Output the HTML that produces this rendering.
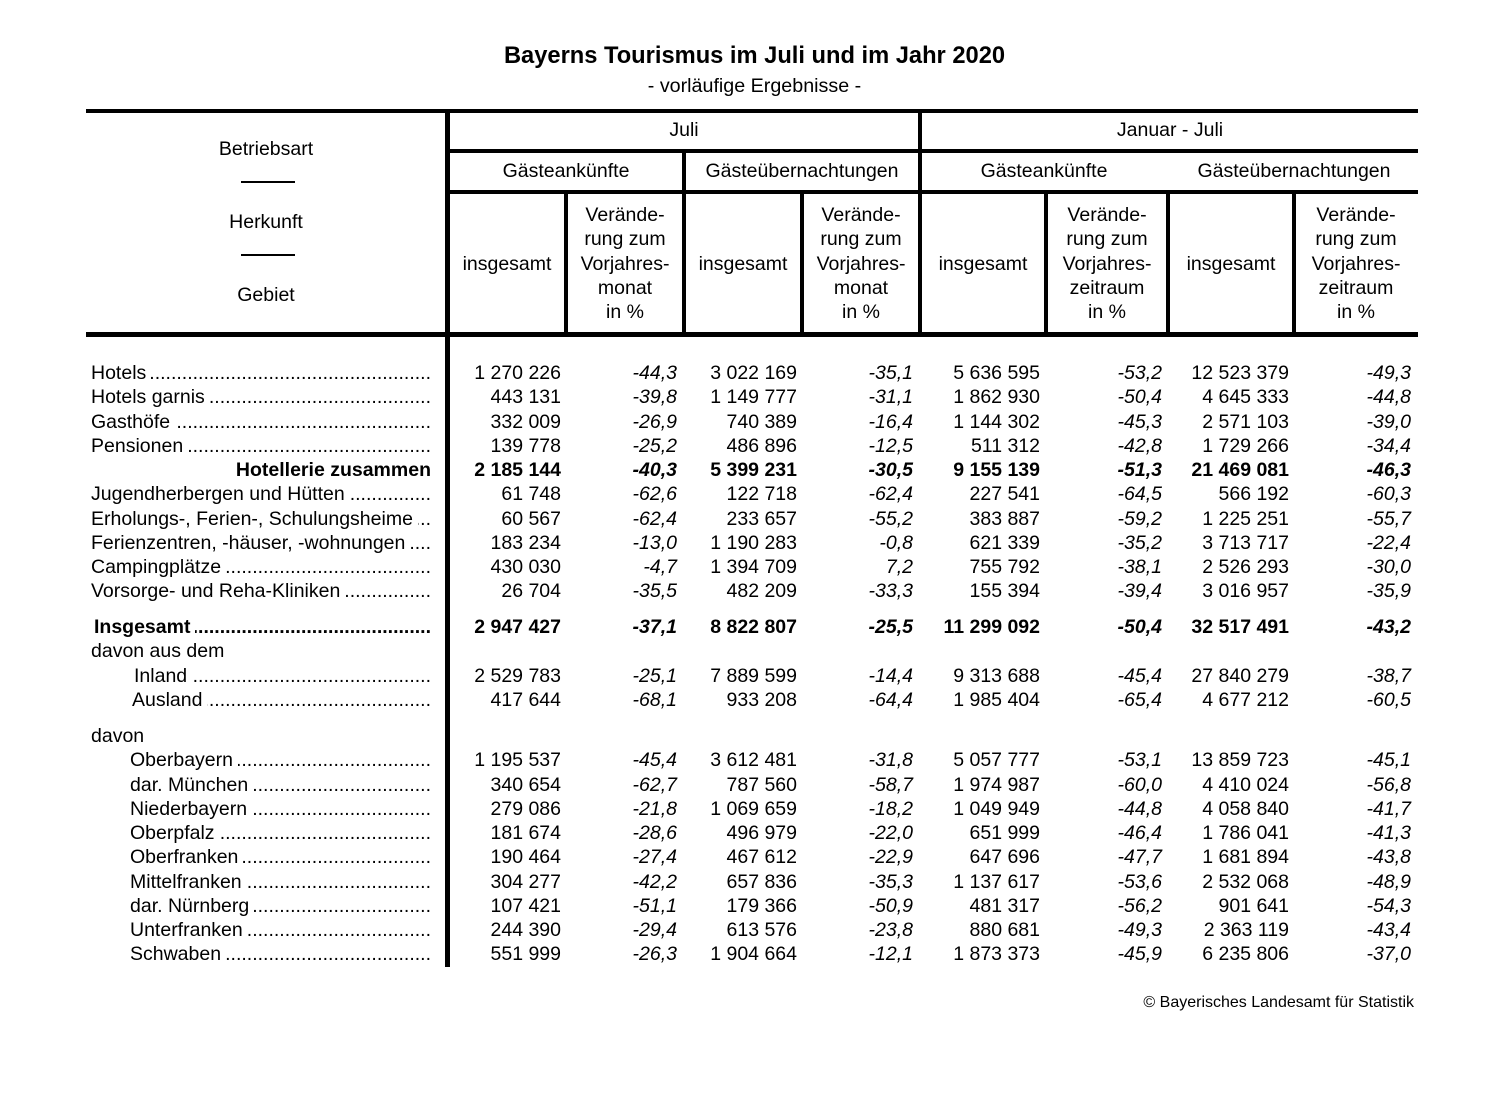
<!DOCTYPE html>
<html><head><meta charset="utf-8">
<style>
html,body{margin:0;padding:0;background:#fff;}
body{width:1509px;height:1106px;position:relative;overflow:hidden;font-family:"Liberation Sans",Arial,sans-serif;color:#000;}
.t{position:absolute;font-size:19.5px;line-height:24px;height:24px;white-space:nowrap;}
.h{position:absolute;background:#000;}
.ctr{text-align:center;}
.row{position:absolute;left:0;width:1509px;height:24px;line-height:24px;font-size:19.5px;white-space:nowrap;}
.row span.n{position:absolute;top:0;}
.c1{right:948px}.c2{right:832px;font-style:italic}.c3{right:712px}.c4{right:596px;font-style:italic}
.c5{right:469px}.c6{right:347px;font-style:italic}.c7{right:220px}.c8{right:98px;font-style:italic}
.lab{position:absolute;top:0;right:1078px;display:flex;white-space:nowrap;}
.lab .d{flex:1;overflow:hidden;direction:rtl;margin-left:5px;}
.b{font-weight:bold;}
.vh{position:absolute;font-size:19.5px;line-height:24.25px;text-align:center;}
</style></head><body>

<div style="position:absolute;left:0;width:1509px;top:42px;text-align:center;font-size:23.7px;font-weight:bold;line-height:29px;">Bayerns Tourismus im Juli und im Jahr 2020</div>
<div style="position:absolute;left:0;width:1509px;top:74px;text-align:center;font-size:19.7px;line-height:24px;">- vorläufige Ergebnisse -</div>

<!-- lines -->
<div class="h" style="left:86px;top:109px;width:1332px;height:4px;"></div>
<div class="h" style="left:446px;top:149px;width:972px;height:4px;"></div>
<div class="h" style="left:446px;top:190px;width:972px;height:4px;"></div>
<div class="h" style="left:86px;top:332px;width:1332px;height:5px;"></div>
<div class="h" style="left:445px;top:109px;width:5px;height:858px;"></div>
<div class="h" style="left:918px;top:109px;width:4px;height:226px;"></div>
<div class="h" style="left:682px;top:149px;width:4px;height:186px;"></div>
<div class="h" style="left:564px;top:190px;width:4px;height:145px;"></div>
<div class="h" style="left:800px;top:190px;width:4px;height:145px;"></div>
<div class="h" style="left:1044px;top:190px;width:4px;height:145px;"></div>
<div class="h" style="left:1166px;top:190px;width:4px;height:145px;"></div>
<div class="h" style="left:1292px;top:190px;width:4px;height:145px;"></div>
<div class="h" style="left:241px;top:181px;width:54px;height:2px;"></div>
<div class="h" style="left:241px;top:254px;width:54px;height:2px;"></div>

<!-- header text -->
<div class="t ctr" style="left:86px;width:360px;top:137px;">Betriebsart</div>
<div class="t ctr" style="left:86px;width:360px;top:210px;">Herkunft</div>
<div class="t ctr" style="left:86px;width:360px;top:283px;">Gebiet</div>

<div class="t ctr" style="left:450px;width:468px;top:118px;">Juli</div>
<div class="t ctr" style="left:922px;width:496px;top:118px;">Januar - Juli</div>

<div class="t ctr" style="left:450px;width:232px;top:159px;">Gästeankünfte</div>
<div class="t ctr" style="left:686px;width:232px;top:159px;">Gästeübernachtungen</div>
<div class="t ctr" style="left:922px;width:244px;top:159px;">Gästeankünfte</div>
<div class="t ctr" style="left:1170px;width:248px;top:159px;">Gästeübernachtungen</div>

<div class="t ctr" style="left:450px;width:114px;top:252px;">insgesamt</div>
<div class="t ctr" style="left:686px;width:114px;top:252px;">insgesamt</div>
<div class="t ctr" style="left:922px;width:122px;top:252px;">insgesamt</div>
<div class="t ctr" style="left:1170px;width:122px;top:252px;">insgesamt</div>

<div class="vh" style="left:568px;width:114px;top:203px;">Verände-<br>rung zum<br>Vorjahres-<br>monat<br>in %</div>
<div class="vh" style="left:804px;width:114px;top:203px;">Verände-<br>rung zum<br>Vorjahres-<br>monat<br>in %</div>
<div class="vh" style="left:1048px;width:118px;top:203px;">Verände-<br>rung zum<br>Vorjahres-<br>zeitraum<br>in %</div>
<div class="vh" style="left:1296px;width:120px;top:203px;">Verände-<br>rung zum<br>Vorjahres-<br>zeitraum<br>in %</div>

<!-- body rows -->
<div class="row" style="top:361px;"><div class="lab" style="left:91px;"><span>Hotels</span><span class="d">................................................................................................</span></div>
<span class="n c1">1 270 226</span><span class="n c2">-44,3</span><span class="n c3">3 022 169</span><span class="n c4">-35,1</span><span class="n c5">5 636 595</span><span class="n c6">-53,2</span><span class="n c7">12 523 379</span><span class="n c8">-49,3</span></div>

<div class="row" style="top:385.25px;"><div class="lab" style="left:91px;"><span>Hotels garnis</span><span class="d">................................................................................................</span></div>
<span class="n c1">443 131</span><span class="n c2">-39,8</span><span class="n c3">1 149 777</span><span class="n c4">-31,1</span><span class="n c5">1 862 930</span><span class="n c6">-50,4</span><span class="n c7">4 645 333</span><span class="n c8">-44,8</span></div>

<div class="row" style="top:409.5px;"><div class="lab" style="left:91px;"><span>Gasthöfe</span><span class="d">................................................................................................</span></div>
<span class="n c1">332 009</span><span class="n c2">-26,9</span><span class="n c3">740 389</span><span class="n c4">-16,4</span><span class="n c5">1 144 302</span><span class="n c6">-45,3</span><span class="n c7">2 571 103</span><span class="n c8">-39,0</span></div>

<div class="row" style="top:433.75px;"><div class="lab" style="left:91px;"><span>Pensionen</span><span class="d">................................................................................................</span></div>
<span class="n c1">139 778</span><span class="n c2">-25,2</span><span class="n c3">486 896</span><span class="n c4">-12,5</span><span class="n c5">511 312</span><span class="n c6">-42,8</span><span class="n c7">1 729 266</span><span class="n c8">-34,4</span></div>

<div class="row b" style="top:458px;"><div class="lab" style="left:91px;justify-content:flex-end;"><span>Hotellerie zusammen</span></div>
<span class="n c1">2 185 144</span><span class="n c2">-40,3</span><span class="n c3">5 399 231</span><span class="n c4">-30,5</span><span class="n c5">9 155 139</span><span class="n c6">-51,3</span><span class="n c7">21 469 081</span><span class="n c8">-46,3</span></div>

<div class="row" style="top:482.25px;"><div class="lab" style="left:91px;"><span>Jugendherbergen und Hütten</span><span class="d">................................................................................................</span></div>
<span class="n c1">61 748</span><span class="n c2">-62,6</span><span class="n c3">122 718</span><span class="n c4">-62,4</span><span class="n c5">227 541</span><span class="n c6">-64,5</span><span class="n c7">566 192</span><span class="n c8">-60,3</span></div>

<div class="row" style="top:506.5px;"><div class="lab" style="left:91px;"><span>Erholungs-, Ferien-, Schulungsheime</span><span class="d">................................................................................................</span></div>
<span class="n c1">60 567</span><span class="n c2">-62,4</span><span class="n c3">233 657</span><span class="n c4">-55,2</span><span class="n c5">383 887</span><span class="n c6">-59,2</span><span class="n c7">1 225 251</span><span class="n c8">-55,7</span></div>

<div class="row" style="top:530.75px;"><div class="lab" style="left:91px;"><span>Ferienzentren, -häuser, -wohnungen</span><span class="d">................................................................................................</span></div>
<span class="n c1">183 234</span><span class="n c2">-13,0</span><span class="n c3">1 190 283</span><span class="n c4">-0,8</span><span class="n c5">621 339</span><span class="n c6">-35,2</span><span class="n c7">3 713 717</span><span class="n c8">-22,4</span></div>

<div class="row" style="top:555px;"><div class="lab" style="left:91px;"><span>Campingplätze</span><span class="d">................................................................................................</span></div>
<span class="n c1">430 030</span><span class="n c2">-4,7</span><span class="n c3">1 394 709</span><span class="n c4">7,2</span><span class="n c5">755 792</span><span class="n c6">-38,1</span><span class="n c7">2 526 293</span><span class="n c8">-30,0</span></div>

<div class="row" style="top:579.25px;"><div class="lab" style="left:91px;"><span>Vorsorge- und Reha-Kliniken</span><span class="d">................................................................................................</span></div>
<span class="n c1">26 704</span><span class="n c2">-35,5</span><span class="n c3">482 209</span><span class="n c4">-33,3</span><span class="n c5">155 394</span><span class="n c6">-39,4</span><span class="n c7">3 016 957</span><span class="n c8">-35,9</span></div>

<div class="row b" style="top:615px;"><div class="lab" style="left:94px;"><span>Insgesamt</span><span class="d">................................................................................................</span></div>
<span class="n c1">2 947 427</span><span class="n c2">-37,1</span><span class="n c3">8 822 807</span><span class="n c4">-25,5</span><span class="n c5">11 299 092</span><span class="n c6">-50,4</span><span class="n c7">32 517 491</span><span class="n c8">-43,2</span></div>

<div class="row" style="top:639.25px;"><span class="n" style="left:91px;">davon aus dem</span></div>

<div class="row" style="top:663.5px;"><div class="lab" style="left:134px;"><span>Inland</span><span class="d">................................................................................................</span></div>
<span class="n c1">2 529 783</span><span class="n c2">-25,1</span><span class="n c3">7 889 599</span><span class="n c4">-14,4</span><span class="n c5">9 313 688</span><span class="n c6">-45,4</span><span class="n c7">27 840 279</span><span class="n c8">-38,7</span></div>

<div class="row" style="top:687.75px;"><div class="lab" style="left:132px;"><span>Ausland</span><span class="d">................................................................................................</span></div>
<span class="n c1">417 644</span><span class="n c2">-68,1</span><span class="n c3">933 208</span><span class="n c4">-64,4</span><span class="n c5">1 985 404</span><span class="n c6">-65,4</span><span class="n c7">4 677 212</span><span class="n c8">-60,5</span></div>

<div class="row" style="top:724px;"><span class="n" style="left:91px;">davon</span></div>

<div class="row" style="top:748.25px;"><div class="lab" style="left:130px;"><span>Oberbayern</span><span class="d">................................................................................................</span></div>
<span class="n c1">1 195 537</span><span class="n c2">-45,4</span><span class="n c3">3 612 481</span><span class="n c4">-31,8</span><span class="n c5">5 057 777</span><span class="n c6">-53,1</span><span class="n c7">13 859 723</span><span class="n c8">-45,1</span></div>

<div class="row" style="top:772.5px;"><div class="lab" style="left:130px;"><span>dar. München</span><span class="d">................................................................................................</span></div>
<span class="n c1">340 654</span><span class="n c2">-62,7</span><span class="n c3">787 560</span><span class="n c4">-58,7</span><span class="n c5">1 974 987</span><span class="n c6">-60,0</span><span class="n c7">4 410 024</span><span class="n c8">-56,8</span></div>

<div class="row" style="top:796.75px;"><div class="lab" style="left:130px;"><span>Niederbayern</span><span class="d">................................................................................................</span></div>
<span class="n c1">279 086</span><span class="n c2">-21,8</span><span class="n c3">1 069 659</span><span class="n c4">-18,2</span><span class="n c5">1 049 949</span><span class="n c6">-44,8</span><span class="n c7">4 058 840</span><span class="n c8">-41,7</span></div>

<div class="row" style="top:821px;"><div class="lab" style="left:130px;"><span>Oberpfalz</span><span class="d">................................................................................................</span></div>
<span class="n c1">181 674</span><span class="n c2">-28,6</span><span class="n c3">496 979</span><span class="n c4">-22,0</span><span class="n c5">651 999</span><span class="n c6">-46,4</span><span class="n c7">1 786 041</span><span class="n c8">-41,3</span></div>

<div class="row" style="top:845.25px;"><div class="lab" style="left:130px;"><span>Oberfranken</span><span class="d">................................................................................................</span></div>
<span class="n c1">190 464</span><span class="n c2">-27,4</span><span class="n c3">467 612</span><span class="n c4">-22,9</span><span class="n c5">647 696</span><span class="n c6">-47,7</span><span class="n c7">1 681 894</span><span class="n c8">-43,8</span></div>

<div class="row" style="top:869.5px;"><div class="lab" style="left:130px;"><span>Mittelfranken</span><span class="d">................................................................................................</span></div>
<span class="n c1">304 277</span><span class="n c2">-42,2</span><span class="n c3">657 836</span><span class="n c4">-35,3</span><span class="n c5">1 137 617</span><span class="n c6">-53,6</span><span class="n c7">2 532 068</span><span class="n c8">-48,9</span></div>

<div class="row" style="top:893.75px;"><div class="lab" style="left:130px;"><span>dar. Nürnberg</span><span class="d">................................................................................................</span></div>
<span class="n c1">107 421</span><span class="n c2">-51,1</span><span class="n c3">179 366</span><span class="n c4">-50,9</span><span class="n c5">481 317</span><span class="n c6">-56,2</span><span class="n c7">901 641</span><span class="n c8">-54,3</span></div>

<div class="row" style="top:918px;"><div class="lab" style="left:130px;"><span>Unterfranken</span><span class="d">................................................................................................</span></div>
<span class="n c1">244 390</span><span class="n c2">-29,4</span><span class="n c3">613 576</span><span class="n c4">-23,8</span><span class="n c5">880 681</span><span class="n c6">-49,3</span><span class="n c7">2 363 119</span><span class="n c8">-43,4</span></div>

<div class="row" style="top:942.25px;"><div class="lab" style="left:130px;"><span>Schwaben</span><span class="d">................................................................................................</span></div>
<span class="n c1">551 999</span><span class="n c2">-26,3</span><span class="n c3">1 904 664</span><span class="n c4">-12,1</span><span class="n c5">1 873 373</span><span class="n c6">-45,9</span><span class="n c7">6 235 806</span><span class="n c8">-37,0</span></div>

<div style="position:absolute;right:95px;top:993px;font-size:16px;line-height:20px;white-space:nowrap;">© Bayerisches Landesamt für Statistik</div>

</body></html>
